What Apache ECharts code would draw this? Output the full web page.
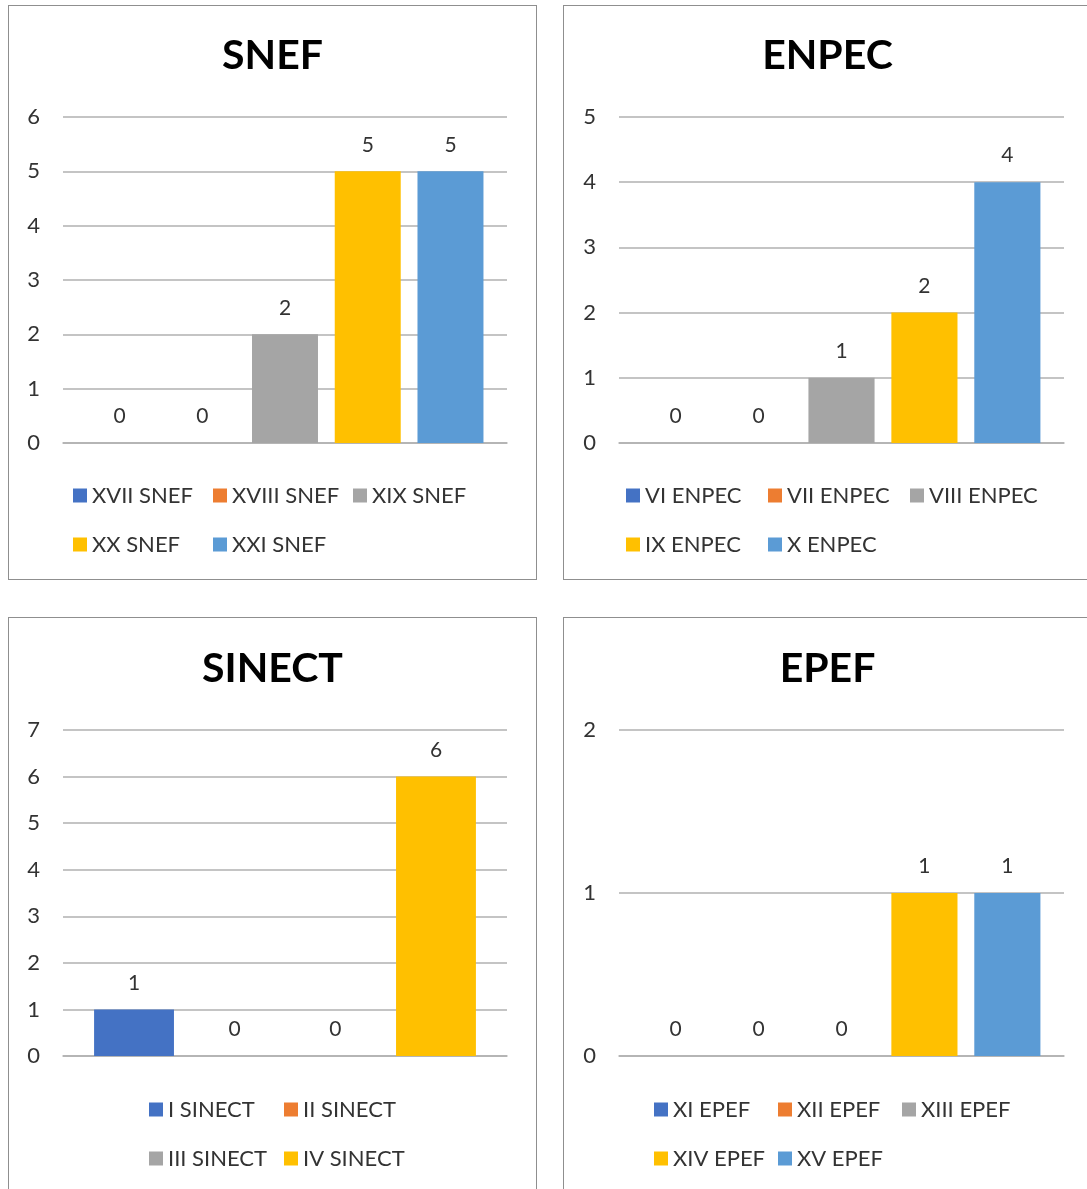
<!DOCTYPE html>
<html>
<head>
<meta charset="utf-8">
<script src="https://cdn.jsdelivr.net/npm/echarts@6/dist/echarts.min.js"></script>
<style>
  html, body { margin: 0; padding: 0; background: #fff; }
  body { width: 1087px; height: 1189px; position: relative; overflow: hidden; }
  .panel { position: absolute; width: 529px; height: 575px; border: 1px solid #8f8f8f; box-sizing: border-box; background: #fff; }
</style>
</head>
<body>
<div class="panel" id="p1" style="left:8px; top:5px;"></div>
<div class="panel" id="p2" style="left:563px; top:5px;"></div>
<div class="panel" id="p3" style="left:8px; top:617px;"></div>
<div class="panel" id="p4" style="left:563px; top:617px;"></div>
<script>
// ---- data ----
const colors = ['#4472C4', '#ED7D31', '#A5A5A5', '#FFC000', '#5B9BD5'];

const snefTitle = 'SNEF';
const snefSeries = ['XVII SNEF', 'XVIII SNEF', 'XIX SNEF', 'XX SNEF', 'XXI SNEF'];
const snefValues = [0, 0, 2, 5, 5];
const snefMax = 6;

const enpecTitle = 'ENPEC';
const enpecSeries = ['VI ENPEC', 'VII ENPEC', 'VIII ENPEC', 'IX ENPEC', 'X ENPEC'];
const enpecValues = [0, 0, 1, 2, 4];
const enpecMax = 5;

const sinectTitle = 'SINECT';
const sinectSeries = ['I SINECT', 'II SINECT', 'III SINECT', 'IV SINECT'];
const sinectValues = [1, 0, 0, 6];
const sinectMax = 7;

const epefTitle = 'EPEF';
const epefSeries = ['XI EPEF', 'XII EPEF', 'XIII EPEF', 'XIV EPEF', 'XV EPEF'];
const epefValues = [0, 0, 0, 1, 1];
const epefMax = 2;

const FONT = 'Lato, "Open Sans", sans-serif';

function build(el, title, names, values, ymax, lay) {
  const chart = echarts.init(document.getElementById(el), null, { renderer: 'canvas' });
  const series = names.map((n, i) => ({
    name: n,
    type: 'bar',
    data: [values[i]],
    itemStyle: { color: colors[i] },
    barGap: lay.barGap,
    barCategoryGap: lay.catGap,
    label: {
      show: true, position: 'top', distance: 16,
      color: '#333', fontSize: 21, fontFamily: FONT
    },
    emphasis: { disabled: true }
  }));
  chart.setOption({
    animation: false,
    title: {
      text: title, left: 'center', top: lay.titleTop,
      textStyle: { fontFamily: FONT, fontWeight: 'bold', fontSize: 41, color: '#000' }
    },
    grid: { left: lay.gl, right: lay.gr, top: lay.gt, height: 326, containLabel: false },
    legend: {
      data: names,
      left: lay.ll, top: lay.lt, width: lay.lw,
      padding: 0, itemGap: 0,
      icon: 'rect', itemWidth: 14, itemHeight: 14,
      textStyle: {
        fontFamily: FONT, fontSize: 22, color: '#333',
        width: lay.tw, height: 49, lineHeight: 49, overflow: 'none'
      },
      selectedMode: false
    },
    xAxis: {
      type: 'category', data: [''],
      axisLine: { lineStyle: { color: '#b0b0b0', width: 1.5 } },
      axisTick: { show: false }, axisLabel: { show: false }
    },
    yAxis: {
      type: 'value', min: 0, max: ymax, interval: 1,
      axisLine: { show: false }, axisTick: { show: false },
      axisLabel: { fontFamily: FONT, fontSize: 22, color: '#333', margin: 23 },
      splitLine: { lineStyle: { color: '#b0b0b0', width: 1.5 } }
    },
    series: series
  });
}

build('p1', snefTitle, snefSeries, snefValues, snefMax,
  { titleTop: 24, gl: 54, gr: 29, gt: 111, ll: 64, lt: 465, lw: 425, tw: 121, barGap: '25.4%', catGap: '10.6%' });
build('p2', enpecTitle, enpecSeries, enpecValues, enpecMax,
  { titleTop: 24, gl: 55, gr: 27, gt: 111, ll: 62, lt: 465, lw: 432, tw: 123, barGap: '25.4%', catGap: '10.6%' });
build('p3', sinectTitle, sinectSeries, sinectValues, sinectMax,
  { titleTop: 25, gl: 54, gr: 29, gt: 112, ll: 140, lt: 467, lw: 275, tw: 116, barGap: '26%', catGap: '14%' });
build('p4', epefTitle, epefSeries, epefValues, epefMax,
  { titleTop: 25, gl: 55, gr: 27, gt: 112, ll: 90, lt: 467, lw: 375, tw: 105, barGap: '25.4%', catGap: '10.6%' });
</script>
</body>
</html>
